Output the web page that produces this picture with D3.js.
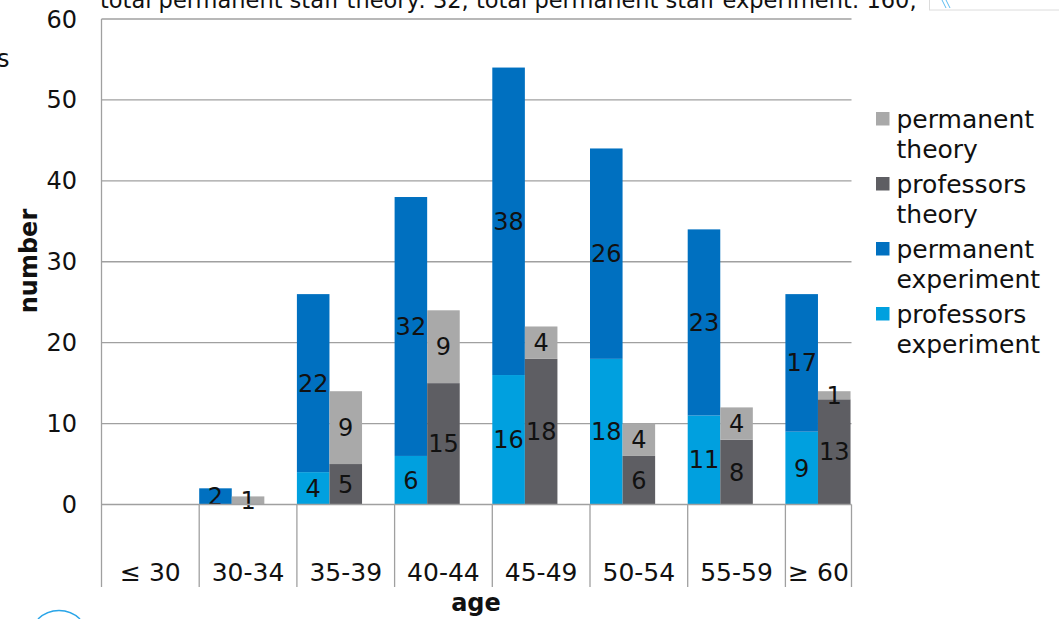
<!DOCTYPE html>
<html>
<head>
<meta charset="utf-8">
<script src="https://cdn.jsdelivr.net/npm/d3@7/dist/d3.min.js"></script>
<style>
  html, body { margin: 0; padding: 0; background: #fff; overflow: hidden; }
  svg { display: block; font-family: "DejaVu Sans", Verdana, sans-serif; }
</style>
</head>
<body>
<svg id="chart" width="1059" height="619"></svg>
<script>
// Age groups and staff counts
const ageGroups = ["\u2264 30", "30-34", "35-39", "40-44", "45-49", "50-54", "55-59", "\u2265 60"];
const professorsExperiment = [0, 0, 4, 6, 16, 18, 11, 9];
const permanentExperiment  = [0, 2, 22, 32, 38, 26, 23, 17];
const professorsTheory     = [0, 0, 5, 15, 18, 6, 8, 13];
const permanentTheory      = [0, 1, 9, 9, 4, 4, 4, 1];
const yTicks = [0, 10, 20, 30, 40, 50, 60];
const legendItems = [
  { lines: ["permanent", "theory"], color: "#a9a9a9" },
  { lines: ["professors", "theory"], color: "#5e5e63" },
  { lines: ["permanent", "experiment"], color: "#0070c0" },
  { lines: ["professors", "experiment"], color: "#00a0df" }
];
const headline = "total permanent staff theory: 32, total permanent staff experiment: 160,";

(function () {
const svg = d3.select("#chart");
const plotLeft = 101.5, plotRight = 851.5, plotTop = 19, plotBottom = 504.5;
const bandStep = 97.7;

const x = d3.scaleBand()
  .domain(ageGroups)
  .range([plotLeft, plotLeft + bandStep * ageGroups.length])
  .paddingInner(0).paddingOuter(0);
const y = d3.scaleLinear().domain([0, 60]).range([plotBottom, plotTop]);
const bw = x.bandwidth();
const barW = bw / 3;

svg.append("defs").append("clipPath").attr("id", "plot-clip")
  .append("rect").attr("x", plotLeft).attr("y", 0).attr("width", plotRight - plotLeft).attr("height", 619);

// Headline text along the top edge
svg.append("text").attr("x", 100).attr("y", 7.5)
  .attr("font-size", 22.5).attr("fill", "#111").text(headline);

// Stray letter at the left edge
svg.append("text").attr("x", -3).attr("y", 66.5)
  .attr("font-size", 24).attr("fill", "#111").text("s");

// Gridlines
svg.append("g").selectAll("line").data(yTicks.filter(d => d > 0)).join("line")
  .attr("x1", plotLeft).attr("x2", plotRight)
  .attr("y1", d => y(d)).attr("y2", d => y(d))
  .attr("stroke", "#a0a0a0").attr("stroke-width", 1.3);

// Y tick labels
svg.append("g").selectAll("text").data(yTicks).join("text")
  .attr("x", 77).attr("y", d => y(d) + 8.5)
  .attr("text-anchor", "end").attr("font-size", 24).attr("fill", "#111")
  .text(d => d);

// Stacked bars
const series = [
  { key: "professors experiment", values: professorsExperiment, base: null, offset: 0, color: "#00a0df" },
  { key: "permanent experiment", values: permanentExperiment, base: professorsExperiment, offset: 0, color: "#0070c0" },
  { key: "professors theory", values: professorsTheory, base: null, offset: 1, color: "#5e5e63" },
  { key: "permanent theory", values: permanentTheory, base: professorsTheory, offset: 1, color: "#a9a9a9" }
];

const segs = [];
series.forEach(s => {
  ageGroups.forEach((g, i) => {
    const v = s.values[i];
    if (!v) return;
    const b = s.base ? s.base[i] : 0;
    segs.push({ group: g, y0: b, y1: b + v, value: v, offset: s.offset, color: s.color });
  });
});

const barG = svg.append("g").attr("clip-path", "url(#plot-clip)");
barG.selectAll("rect").data(segs).join("rect")
  .attr("x", d => x(d.group) + d.offset * barW)
  .attr("width", barW)
  .attr("y", d => y(d.y1))
  .attr("height", d => y(d.y0) - y(d.y1))
  .attr("fill", d => d.color);

barG.selectAll("text").data(segs).join("text")
  .attr("x", d => x(d.group) + d.offset * barW + barW / 2)
  .attr("y", d => y((d.y0 + d.y1) / 2) + 8.5)
  .attr("text-anchor", "middle").attr("font-size", 24).attr("fill", "#111")
  .text(d => d.value);

// Axis lines
svg.append("line").attr("x1", plotLeft).attr("x2", plotLeft).attr("y1", plotTop).attr("y2", 587)
  .attr("stroke", "#a0a0a0").attr("stroke-width", 1.3);
svg.append("line").attr("x1", plotLeft).attr("x2", plotRight).attr("y1", plotBottom).attr("y2", plotBottom)
  .attr("stroke", "#a0a0a0").attr("stroke-width", 1.3);

// Category separators below the baseline
const edges = ageGroups.slice(1).map(g => x(g)).concat([plotRight]);
svg.append("g").selectAll("line").data(edges).join("line")
  .attr("x1", d => d).attr("x2", d => d).attr("y1", plotBottom).attr("y2", 587)
  .attr("stroke", "#a0a0a0").attr("stroke-width", 1.3);

// Category labels, centred on the visible part of each band
svg.append("g").selectAll("text").data(ageGroups).join("text")
  .attr("x", g => (x(g) + Math.min(x(g) + bw, plotRight)) / 2)
  .attr("y", 581)
  .attr("text-anchor", "middle").attr("font-size", 25).attr("fill", "#111")
  .text(g => g);

// Axis titles
svg.append("text").attr("transform", "translate(37,261) rotate(-90)")
  .attr("text-anchor", "middle").attr("font-size", 24).attr("font-weight", "bold")
  .attr("fill", "#111").text("number");
svg.append("text").attr("x", 476).attr("y", 611)
  .attr("text-anchor", "middle").attr("font-size", 24).attr("font-weight", "bold")
  .attr("fill", "#111").text("age");

// Legend
const leg = svg.append("g");
legendItems.forEach((item, i) => {
  const y0 = 127.5 + i * 65;
  leg.append("rect").attr("x", 876).attr("y", y0 - 15.5).attr("width", 13.5).attr("height", 13.5)
    .attr("fill", item.color);
  item.lines.forEach((ln, j) => {
    leg.append("text").attr("x", 896.5).attr("y", y0 + j * 30.5)
      .attr("font-size", 25).attr("fill", "#111").text(ln);
  });
});

// Small interface remnants at the corners
svg.append("rect").attr("x", 929.5).attr("y", -5).attr("width", 140).attr("height", 15)
  .attr("fill", "none").attr("stroke", "#dcdcdc");
svg.append("path").attr("d", "M942,0 L946,8 M946,0 L950,8")
  .attr("stroke", "#5bbcf0").attr("stroke-width", 1).attr("fill", "none");
svg.append("path").attr("d", "M38,619 A30,30 0 0 1 80,619")
  .attr("stroke", "#2aa5e8").attr("stroke-width", 1.5).attr("fill", "none");
})();
</script>
</body>
</html>
